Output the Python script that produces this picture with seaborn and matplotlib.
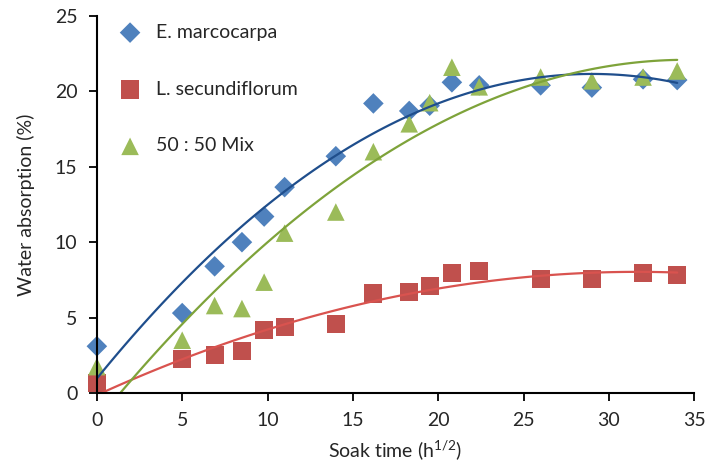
import numpy as np
import pandas as pd
import seaborn as sns
import matplotlib
matplotlib.use("Agg")
import matplotlib.pyplot as plt

# soak time (h^1/2) and water absorption (%)
soak = [0, 5, 6.9, 8.5, 9.8, 11, 14, 16.2, 18.3, 19.5, 20.8, 22.4, 26, 29, 32, 34]
e_marcocarpa = [3.1, 5.3, 8.4, 10.0, 11.7, 13.65, 15.7, 19.2, 18.7, 19.05, 20.6, 20.4, 20.4, 20.25, 20.8, 20.75]
l_secundiflorum = [0.65, 2.25, 2.5, 2.8, 4.2, 4.35, 4.55, 6.6, 6.7, 7.1, 7.95, 8.1, 7.55, 7.55, 7.95, 7.85]
mix_50_50 = [1.75, 3.5, 5.8, 5.6, 7.35, 10.6, 12.0, 16.0, 17.85, 19.25, 21.6, 20.3, 20.95, 20.7, 20.95, 21.35]

names = ["E. marcocarpa", "L. secundiflorum", "50 : 50 Mix"]
marker_cols = ["#4F81BD", "#C0504D", "#9BBB59"]
line_cols = ["#1F4E8C", "#D9534F", "#7EA33A"]
markers = ["D", "s", "^"]
sizes = [110, 170, 160]

df = pd.DataFrame({
    "soak": soak * 3,
    "absorb": e_marcocarpa + l_secundiflorum + mix_50_50,
    "sample": [names[0]] * len(soak) + [names[1]] * len(soak) + [names[2]] * len(soak),
})

sns.set_style("white")
plt.rcParams["font.family"] = ["Lato", "DejaVu Sans"]
plt.rcParams["mathtext.fontset"] = "custom"
plt.rcParams["mathtext.rm"] = "Lato"

fig = plt.figure(figsize=(7.07, 4.69), dpi=100)
ax = fig.add_axes([0.137, 0.162, 0.845, 0.804])

for i, name in enumerate(names):
    sub = df[df["sample"] == name]
    sns.scatterplot(data=sub, x="soak", y="absorb", marker=markers[i], s=sizes[i],
                    color=marker_cols[i], edgecolor="none", label=name, ax=ax, zorder=2 + i)
for coll in ax.collections:
    coll.set_clip_on(False)

for i, name in enumerate(names):
    sub = df[df["sample"] == name]
    sns.regplot(data=sub, x="soak", y="absorb", order=2, ci=None, scatter=False,
                line_kws={"color": line_cols[i], "lw": 1.6, "zorder": 6}, ax=ax)

ax.set_xlim(0, 35)
ax.set_ylim(0, 25)
ax.set_xticks(range(0, 36, 5))
ax.set_yticks(range(0, 26, 5))
ax.set_xlabel(r"Soak time (h$\mathregular{^{1/2}}$)", fontsize=14, labelpad=6)
ax.set_ylabel("Water absorption (%)", fontsize=14, labelpad=14)
ax.tick_params(axis="both", labelsize=14, direction="out", length=6, width=1.3,
               color="black", bottom=True, left=True, pad=8)
for side in ["top", "right"]:
    ax.spines[side].set_visible(False)
for side in ["left", "bottom"]:
    ax.spines[side].set_color("black")
    ax.spines[side].set_linewidth(1.5)
    ax.spines[side].set_zorder(10)

ax.legend(loc="upper left", frameon=False, fontsize=14, labelspacing=2.05,
          handletextpad=0.35, borderaxespad=0.0, bbox_to_anchor=(0.01, 1.0))

fig.savefig("out.png", dpi=100)
